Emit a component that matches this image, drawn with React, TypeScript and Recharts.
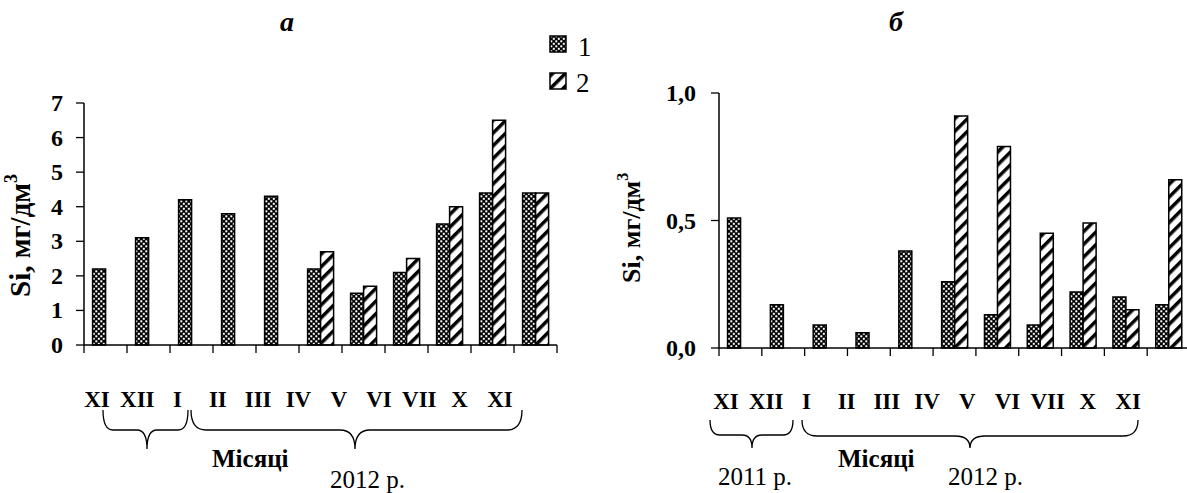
import { BarChart, Bar, XAxis, YAxis } from 'recharts';

const FONT = '"Liberation Serif", "Times New Roman", Times, serif';
const serif = { fontFamily: FONT };

// months on the x axis (same for both panels)
const months = ['XI', 'XII', 'I', 'II', 'III', 'IV', 'V', 'VI', 'VII', 'X', 'XI'];

// panel а, mg/dm3
const siA1 = [2.2, 3.1, 4.2, 3.8, 4.3, 2.2, 1.5, 2.1, 3.5, 4.4, 4.4];
const siA2 = [null, null, null, null, null, 2.7, 1.7, 2.5, 4.0, 6.5, 4.4];
const ticksA = [0, 1, 2, 3, 4, 5, 6, 7];

// panel б, mg/dm3
const siB1 = [0.51, 0.17, 0.09, 0.06, 0.38, 0.26, 0.13, 0.09, 0.22, 0.2, 0.17];
const siB2 = [null, null, null, null, null, 0.91, 0.79, 0.45, 0.49, 0.15, 0.66];
const ticksB = [0, 0.5, 1];

const dataA = months.map((m, i) => ({ m, s1: siA1[i], s2: siA2[i] }));
const dataB = months.map((m, i) => ({ m, s1: siB1[i], s2: siB2[i] }));

// x tick: boundary tick marks + labels squeezed a bit to the left like the original
const monthTick = (o: { c0: number; x0: number; k: number; band: number; n: number; dy: number }) =>
  (props: any) => {
    const { x, y, payload } = props;
    const i = props.index ?? payload?.index ?? 0;
    const axisY = y - 8;
    const left = x - o.band / 2;
    const tx = o.x0 + (x - o.c0) * o.k;
    return (
      <g>
        <line x1={left} x2={left} y1={axisY} y2={axisY + 8} stroke="#000" strokeWidth={1.3} />
        {i === o.n - 1 && (
          <line x1={x + o.band / 2} x2={x + o.band / 2} y1={axisY} y2={axisY + 8} stroke="#000" strokeWidth={1.3} />
        )}
        <text x={tx} y={axisY + o.dy} textAnchor="middle" style={serif} fontWeight="bold" fontSize={23} fill="#000">
          {payload.value}
        </text>
      </g>
    );
  };

const TickA = monthTick({ c0: 105.5, x0: 97, k: 0.937, band: 43, n: 11, dy: 62 });
const TickB = monthTick({ c0: 140.4, x0: 126, k: 0.939, band: 42.8, n: 11, dy: 61 });

const valueTick = (fmt: (v: number) => string) => (props: any) => (
  <text x={props.x} y={props.y} dy={8} textAnchor="end" style={serif} fontWeight="bold" fontSize={24} fill="#000">
    {fmt(props.payload.value)}
  </text>
);
const YTickA = valueTick((v) => String(v));
const YTickB = valueTick((v) => v.toFixed(1).replace('.', ','));

const brace = (x1: number, x2: number, xt: number, yTop: number, yMid: number, yTip: number, r: number) =>
  `M ${x1} ${yTop} Q ${x1} ${yMid} ${x1 + r} ${yMid} L ${xt - r} ${yMid} Q ${xt} ${yMid} ${xt} ${yTip} ` +
  `Q ${xt} ${yMid} ${xt + r} ${yMid} L ${x2 - r} ${yMid} Q ${x2} ${yMid} ${x2} ${yTop}`;

export default function App() {
  return (
    <div style={{ position: 'absolute', left: 0, top: 0, width: 1187, height: 493, overflow: 'hidden', background: '#fff', fontFamily: FONT }}>
      <svg width={0} height={0} style={{ position: 'absolute' }}>
        <defs>
          <pattern id="chk" width={5} height={5} patternUnits="userSpaceOnUse">
            <rect width={5} height={5} fill="#000" />
            <rect x={0.3} y={0.3} width={2} height={2} fill="#fff" />
            <rect x={2.8} y={2.8} width={2} height={2} fill="#fff" />
          </pattern>
          <pattern id="diag" width={9} height={9} patternUnits="userSpaceOnUse" patternTransform="rotate(45)">
            <rect width={9} height={9} fill="#fff" />
            <rect width={3.5} height={9} fill="#000" />
          </pattern>
        </defs>
      </svg>

      <div style={{ position: 'absolute', left: 0, top: 0 }}>
        <BarChart width={600} height={493} data={dataA} margin={{ top: 103, right: 43, left: 24, bottom: 108 }} barCategoryGap="20%" barGap={0}>
          <XAxis dataKey="m" height={40} tickSize={8} tickMargin={0} tickLine={false} interval={0}
            axisLine={{ stroke: '#000', strokeWidth: 1.5 }} tick={TickA} />
          <YAxis domain={[0, 7]} ticks={ticksA} interval={0} width={60} tickSize={8} tickMargin={13}
            axisLine={{ stroke: '#000', strokeWidth: 1.5 }} tickLine={{ stroke: '#000', strokeWidth: 1.3 }} tick={YTickA} />
          <Bar dataKey="s1" fill="url(#chk)" stroke="#000" strokeWidth={1.5} isAnimationActive={false} />
          <Bar dataKey="s2" fill="url(#diag)" stroke="#000" strokeWidth={1.5} isAnimationActive={false} />
        </BarChart>
      </div>

      <div style={{ position: 'absolute', left: 600, top: 0 }}>
        <BarChart width={600} height={493} data={dataB} margin={{ top: 93, right: 10, left: 59, bottom: 105 }} barCategoryGap="20%" barGap={0}>
          <XAxis dataKey="m" height={40} tickSize={8} tickMargin={0} tickLine={false} interval={0}
            axisLine={{ stroke: '#000', strokeWidth: 1.5 }} tick={TickB} />
          <YAxis domain={[0, 1]} ticks={ticksB} interval={0} width={60} tickSize={8} tickMargin={15}
            axisLine={{ stroke: '#000', strokeWidth: 1.5 }} tickLine={{ stroke: '#000', strokeWidth: 1.3 }} tick={YTickB} />
          <Bar dataKey="s1" fill="url(#chk)" stroke="#000" strokeWidth={1.5} isAnimationActive={false} />
          <Bar dataKey="s2" fill="url(#diag)" stroke="#000" strokeWidth={1.5} isAnimationActive={false} />
        </BarChart>
      </div>

      {/* titles, legend, axis titles and the month braces */}
      <svg width={1187} height={493} style={{ position: 'absolute', left: 0, top: 0, pointerEvents: 'none', fontFamily: FONT }} fill="#000">
        <text x={280} y={31} style={serif} fontSize={28} fontWeight="bold" fontStyle="italic">а</text>
        <text x={889} y={31} style={serif} fontSize={28} fontWeight="bold" fontStyle="italic">б</text>

        <rect x={550} y={36} width={16} height={16} fill="url(#chk)" stroke="#000" strokeWidth={1.5} />
        <text x={578} y={56} style={serif} fontSize={27}>1</text>
        <rect x={550} y={73} width={16} height={16} fill="url(#diag)" stroke="#000" strokeWidth={1.5} />
        <text x={576} y={92} style={serif} fontSize={27}>2</text>

        <text transform="translate(30,297) rotate(-90)" style={serif} fontSize={29} fontWeight="bold">
          <tspan>Si, мг/дм</tspan>
          <tspan fontSize={18} dy={-13}>3</tspan>
        </text>
        <text transform="translate(640,283) rotate(-90)" style={serif} fontSize={26} fontWeight="bold">
          <tspan>Si, мг/дм</tspan>
          <tspan fontSize={16} dy={-12}>3</tspan>
        </text>

        <path d={brace(103, 188, 147, 410, 430, 449, 10)} fill="none" stroke="#000" strokeWidth={1.3} />
        <path d={brace(191, 522, 355, 410, 430, 449, 15)} fill="none" stroke="#000" strokeWidth={1.3} />
        <text x={212} y={467} style={serif} fontSize={25} fontWeight="bold">Місяці</text>
        <text x={330} y={488} style={serif} fontSize={25}>2012 р.</text>

        <path d={brace(710, 793, 752, 420, 435, 448, 10)} fill="none" stroke="#000" strokeWidth={1.3} />
        <path d={brace(802, 1138, 970, 420, 436, 448, 15)} fill="none" stroke="#000" strokeWidth={1.3} />
        <text x={718} y={485} style={serif} fontSize={25}>2011 р.</text>
        <text x={838} y={467} style={serif} fontSize={25} fontWeight="bold">Місяці</text>
        <text x={948} y={485} style={serif} fontSize={25}>2012 р.</text>
      </svg>
    </div>
  );
}
